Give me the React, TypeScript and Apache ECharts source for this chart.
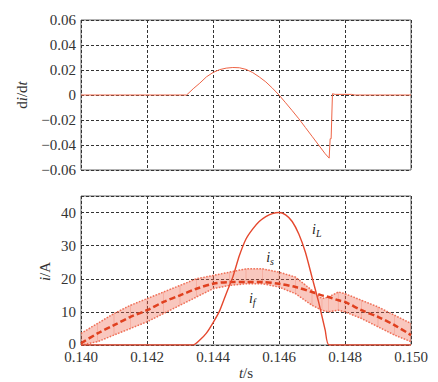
import React, { useEffect, useRef } from 'react';
import * as echarts from 'echarts';

// top panel: di/dt
const tTop = [0.140, 0.1432, 0.1434, 0.1436, 0.1438, 0.1440, 0.1442, 0.1444, 0.1446, 0.1448, 0.1450, 0.1452, 0.1454, 0.1456, 0.1458, 0.1460, 0.1462, 0.1464, 0.1466, 0.1468, 0.1470, 0.1472, 0.1474, 0.14752, 0.14755, 0.14758, 0.14762, 0.1477, 0.1482, 0.1483, 0.150];
const didt = [0, 0, 0.005, 0.0095, 0.0145, 0.018, 0.0203, 0.0215, 0.022, 0.0218, 0.0205, 0.018, 0.0145, 0.0105, 0.0055, 0, -0.0062, -0.0125, -0.019, -0.026, -0.033, -0.040, -0.047, -0.0505, -0.035, -0.035, 0.001, 0.0005, 0.0005, 0, 0];

// bottom panel: currents
const tBand = [0.1400, 0.1405, 0.1410, 0.1415, 0.1420, 0.1425, 0.1430, 0.1435, 0.1440, 0.1445, 0.1450, 0.1455, 0.1460, 0.1465, 0.1470, 0.1473, 0.1475, 0.1478, 0.1480, 0.1485, 0.1490, 0.1495, 0.1500];
const iF = [0.5, 3.5, 6, 8.5, 10.5, 13, 15, 17, 18.5, 19, 19, 19, 18.5, 17.5, 16, 15, 14.5, 13.5, 13, 10.5, 8.5, 6, 3];
const iSUpper = [3.5, 6.5, 9.5, 12, 14, 16, 18, 20, 21, 22, 23, 23, 22, 20.5, 16.5, 14, 14.5, 16, 15.5, 13.5, 11.5, 9, 6.5];
const iSLower = [0, 1, 3, 5, 7, 9.5, 12, 14.5, 17, 18, 18.5, 18.5, 17.5, 15.5, 12, 10.5, 10, 10.5, 10, 8, 5.5, 3, 1];

const tL = [0.140, 0.1434, 0.1436, 0.1438, 0.1440, 0.1442, 0.1444, 0.1445, 0.1446, 0.1448, 0.1450, 0.1452, 0.1454, 0.1456, 0.1458, 0.1460, 0.1462, 0.1464, 0.1466, 0.1468, 0.1470, 0.1472, 0.1474, 0.14752, 0.150];
const iL = [0, 0, 1.5, 3.6, 6.7, 10.3, 15.5, 18, 20.5, 27, 32, 35, 37.3, 38.8, 39.7, 40, 39.3, 37.3, 33.5, 28, 20.5, 13, 4.5, 0, 0];

// tick labels
const xTickVals = [0.140, 0.142, 0.144, 0.146, 0.148, 0.150];
const xTickLabels = ['0.140', '0.142', '0.144', '0.146', '0.148', '0.150'];
const yTopVals = [0.06, 0.04, 0.02, 0, -0.02, -0.04, -0.06];
const yTopLabels = ['0.06', '0.04', '0.02', '0', '\u22120.02', '\u22120.04', '\u22120.06'];
const yBotVals = [0, 10, 20, 30, 40];
const yBotLabels = ['0', '10', '20', '30', '40'];

const FONT = 'Liberation Serif';
const TXT = '#333';
const RED = '#E5482E';
const BAND = '#EF6E55';

const pairs = (xs: number[], ys: number[]) => xs.map((x, i) => [x, ys[i]]);

export default function App() {
  const ref = useRef<HTMLDivElement>(null);
  useEffect(() => {
    if (!ref.current) return;
    const chart = echarts.init(ref.current, undefined, { renderer: 'svg' });
    const split = { show: true, lineStyle: { color: '#333', width: 1, type: [3, 2] as any } };
    const xCommon = {
      type: 'value',
      min: 0.14,
      max: 0.15,
      interval: 0.002,
      axisLine: { show: false },
      axisTick: { show: false },
      axisLabel: { show: false },
      splitLine: split,
    };
    const bandData = tBand.slice(0, -1).map((t, i) => [
      t, iSLower[i], iSUpper[i], tBand[i + 1], iSLower[i + 1], iSUpper[i + 1],
    ]);
    chart.setOption({
      animation: false,
      backgroundColor: '#fff',
      grid: [
        { left: 81, top: 20, width: 330, height: 150, show: true, borderColor: '#666', borderWidth: 1 },
        { left: 81, top: 196, width: 330, height: 149, show: true, borderColor: '#666', borderWidth: 1 },
      ],
      xAxis: [
        { ...xCommon, gridIndex: 0 },
        { ...xCommon, gridIndex: 1 },
      ],
      yAxis: [
        {
          type: 'value', gridIndex: 0, min: -0.06, max: 0.06, interval: 0.02,
          axisLine: { show: false }, axisTick: { show: false }, axisLabel: { show: false }, splitLine: split,
        },
        {
          type: 'value', gridIndex: 1, min: 0, max: 45, interval: 10,
          axisLine: { show: false }, axisTick: { show: false }, axisLabel: { show: false }, splitLine: split,
        },
      ],
      series: [
        {
          type: 'line', xAxisIndex: 0, yAxisIndex: 0, data: pairs(tTop, didt),
          showSymbol: false, lineStyle: { color: '#EE6446', width: 1 },
        },
        {
          type: 'custom', xAxisIndex: 1, yAxisIndex: 1,
          data: bandData,
          encode: { x: [0, 3], y: [1, 2, 4, 5] },
          renderItem: (_p: any, api: any) => {
            const a = api.coord([api.value(0), api.value(1)]);
            const b = api.coord([api.value(0), api.value(2)]);
            const c = api.coord([api.value(3), api.value(5)]);
            const d = api.coord([api.value(3), api.value(4)]);
            return {
              type: 'polygon',
              shape: { points: [a, b, c, d] },
              style: { fill: 'rgba(239, 100, 75, 0.36)', stroke: 'rgba(239, 100, 75, 0.36)', lineWidth: 0.4 },
            };
          },
          z: 1,
        },
        {
          type: 'line', xAxisIndex: 1, yAxisIndex: 1, data: pairs(tBand, iSLower),
          showSymbol: false,
          lineStyle: { color: BAND, width: 1.5, type: [1.5, 1.5] as any },
          z: 2,
        },
        {
          type: 'line', xAxisIndex: 1, yAxisIndex: 1, data: pairs(tBand, iSUpper),
          showSymbol: false,
          lineStyle: { color: BAND, width: 1.5, type: [1.5, 1.5] as any },
          z: 2,
        },
        {
          type: 'line', xAxisIndex: 1, yAxisIndex: 1, data: pairs(tBand, iF),
          showSymbol: false, smooth: 0.3,
          lineStyle: { color: '#E0401F', width: 2.5, type: [6, 3] as any },
          z: 3,
        },
        {
          type: 'line', xAxisIndex: 1, yAxisIndex: 1, data: pairs(tL, iL),
          showSymbol: false, smooth: 0.2,
          lineStyle: { color: RED, width: 1.4 },
          z: 4,
        },
      ],
    });

    const px = (g: number, x: number, y: number) =>
      chart.convertToPixel({ gridIndex: g } as any, [x, y]) as number[];
    const base = { fontFamily: FONT, fontSize: 15, lineHeight: 12, fill: TXT };
    const richBase = {
      r: { fontFamily: FONT, fontSize: 15, fill: TXT },
      it: { fontFamily: FONT, fontSize: 15, fontStyle: 'italic', fill: TXT },
    };
    const graphics: any[] = [];
    yTopVals.forEach((v, i) => {
      const p = px(0, 0.14, v);
      graphics.push({ type: 'text', x: p[0] - 5, y: p[1], style: { ...base, text: yTopLabels[i], align: 'right', verticalAlign: 'middle' } });
    });
    yBotVals.forEach((v, i) => {
      const p = px(1, 0.14, v);
      graphics.push({ type: 'text', x: p[0] - 5, y: p[1] - (v === 0 ? 1 : 0), style: { ...base, text: yBotLabels[i], align: 'right', verticalAlign: 'middle' } });
    });
    xTickVals.forEach((v, i) => {
      const p = px(1, v, 0);
      graphics.push({ type: 'text', x: p[0], y: p[1] + 12, style: { ...base, text: xTickLabels[i], align: 'center', verticalAlign: 'middle' } });
    });
    // axis names
    const pTopMid = px(0, 0.145, 0);
    graphics.push({
      type: 'text', x: 22, y: pTopMid[1], rotation: Math.PI / 2,
      style: { text: '{r|d}{it|i}{r|/d}{it|t}', rich: richBase, align: 'center', verticalAlign: 'middle' },
    });
    const pBotMid = px(1, 0.145, 22.5);
    graphics.push({
      type: 'text', x: 45, y: pBotMid[1] + 1, rotation: Math.PI / 2,
      style: { text: '{it|i}{r|/A}', rich: richBase, align: 'center', verticalAlign: 'middle' },
    });
    const pBotAxis = px(1, 0.145, 0);
    graphics.push({
      type: 'text', x: pBotAxis[0], y: pBotAxis[1] + 28,
      style: { text: '{it|t}{r|/s}', rich: richBase, align: 'center', verticalAlign: 'middle' },
    });

    const lbl = (x: number, y: number, main: string, sub: string) => {
      const p = px(1, x, y);
      return {
        type: 'text', x: p[0], y: p[1],
        style: {
          text: `{a|${main}}{b|${sub}}`,
          rich: {
            a: { fontFamily: FONT, fontSize: 14, fontStyle: 'italic', fill: '#222' },
            b: { fontFamily: FONT, fontSize: 10, fontStyle: 'italic', fill: '#222', padding: [7, 0, 0, 0] },
          },
        },
      };
    };
    graphics.push(
      lbl(0.14700, 37.4, 'i', 'L'),
      lbl(0.14561, 28.9, 'i', 's'),
      lbl(0.14509, 16.5, 'i', 'f'),
    );
    chart.setOption({ graphic: graphics });
    return () => chart.dispose();
  }, []);
  return (
    <div
      ref={ref}
      style={{ position: 'fixed', left: 0, top: 0, width: 438, height: 382, background: '#fff' }}
    />
  );
}
